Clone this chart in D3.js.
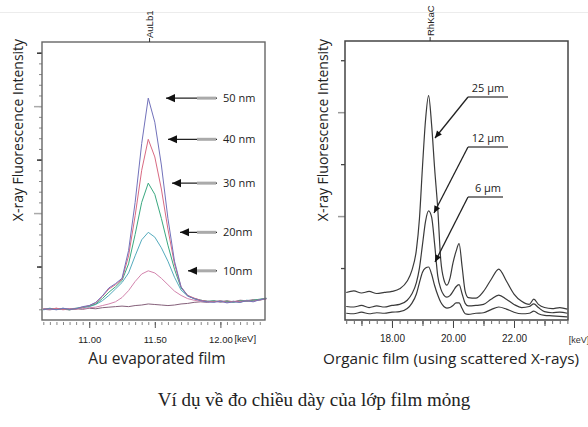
<!DOCTYPE html>
<html>
<head>
<meta charset="utf-8">
<script src="https://cdnjs.cloudflare.com/ajax/libs/d3/7.8.5/d3.min.js"></script>
<style>
  body { margin: 0; background: #fff; }
  svg { display: block; }
</style>
</head>
<body>
<div id="chart"></div>
<script>
// Data
// --------------------------

// Left panel: Au evaporated film, energy in keV
var auEnergy = [10.65, 10.70, 10.75, 10.80, 10.85, 10.90, 10.95, 11.00, 11.05, 11.10, 11.15, 11.20,
  11.25, 11.30, 11.35, 11.40, 11.45, 11.50, 11.55, 11.60, 11.65, 11.70, 11.75, 11.80, 11.85,
  11.90, 11.95, 12.00, 12.05, 12.10, 12.15, 12.20, 12.25, 12.30, 12.35];

var au0nm = [0.20, 0.19, 0.21, 0.20, 0.19, 0.21, 0.20, 0.22, 0.21, 0.23, 0.24, 0.25, 0.26, 0.25,
  0.27, 0.28, 0.30, 0.29, 0.28, 0.27, 0.28, 0.30, 0.31, 0.33, 0.34, 0.33, 0.35, 0.34, 0.36, 0.34,
  0.37, 0.36, 0.38, 0.37, 0.40];
var au10nm = [0.21, 0.20, 0.22, 0.19, 0.21, 0.22, 0.21, 0.23, 0.24, 0.27, 0.30, 0.34, 0.42, 0.55,
  0.72, 0.86, 0.92, 0.88, 0.78, 0.66, 0.54, 0.46, 0.40, 0.37, 0.35, 0.34, 0.36, 0.33, 0.35, 0.34,
  0.36, 0.35, 0.37, 0.38, 0.39];
var au20nm = [0.19, 0.21, 0.20, 0.22, 0.20, 0.21, 0.23, 0.25, 0.29, 0.36, 0.46, 0.58, 0.70, 0.88,
  1.20, 1.50, 1.64, 1.55, 1.35, 1.10, 0.80, 0.56, 0.45, 0.40, 0.37, 0.35, 0.34, 0.36, 0.34, 0.35,
  0.33, 0.37, 0.36, 0.38, 0.40];
var au30nm = [0.20, 0.22, 0.20, 0.21, 0.19, 0.22, 0.24, 0.26, 0.30, 0.40, 0.52, 0.62, 0.74, 1.05,
  1.60, 2.20, 2.56, 2.35, 1.90, 1.40, 0.95, 0.60, 0.46, 0.40, 0.37, 0.35, 0.36, 0.34, 0.35, 0.33,
  0.36, 0.35, 0.37, 0.39, 0.41];
var au40nm = [0.21, 0.20, 0.22, 0.20, 0.21, 0.20, 0.24, 0.27, 0.32, 0.44, 0.58, 0.66, 0.76, 1.20,
  1.95, 2.80, 3.38, 3.05, 2.45, 1.70, 1.05, 0.62, 0.46, 0.41, 0.37, 0.35, 0.34, 0.36, 0.33, 0.35,
  0.34, 0.36, 0.35, 0.38, 0.40];
var au50nm = [0.20, 0.21, 0.19, 0.22, 0.20, 0.21, 0.25, 0.27, 0.33, 0.45, 0.60, 0.68, 0.78, 1.30,
  2.20, 3.30, 4.15, 3.70, 2.90, 1.90, 1.10, 0.62, 0.45, 0.40, 0.36, 0.34, 0.33, 0.35, 0.32, 0.34,
  0.33, 0.36, 0.34, 0.38, 0.40];

var auLabels = ["10nm", "20nm", "30 nm", "40 nm", "50 nm"];
var auTicks = [11.0, 11.5, 12.0];

// Right panel: organic film, energy in keV
var orgEnergy = [16.5, 16.75, 17.0, 17.25, 17.5, 17.75, 18.0, 18.25, 18.5, 18.65, 18.8, 18.9,
  19.0, 19.1, 19.2, 19.3, 19.4, 19.5, 19.6, 19.7, 19.8, 19.9, 20.0, 20.1, 20.2, 20.3, 20.4, 20.5,
  20.75, 21.0, 21.25, 21.5, 21.75, 22.0, 22.25, 22.5, 22.65, 22.8, 23.0, 23.25, 23.5, 23.75];

var org25um = [0.53, 0.56, 0.52, 0.55, 0.51, 0.53, 0.55, 0.60, 0.75, 0.95, 1.35, 1.95, 2.95,
  3.85, 4.32, 3.75, 2.90, 2.15, 1.15, 0.78, 0.67, 0.80, 1.10, 1.32, 1.47, 1.02, 0.55, 0.43, 0.42,
  0.55, 0.78, 0.98, 0.75, 0.50, 0.36, 0.30, 0.40, 0.30, 0.24, 0.22, 0.24, 0.21];
var org12um = [0.26, 0.25, 0.28, 0.24, 0.27, 0.25, 0.28, 0.30, 0.38, 0.50, 0.72, 1.00, 1.45,
  1.90, 2.10, 1.98, 1.45, 0.85, 0.60, 0.48, 0.44, 0.47, 0.55, 0.64, 0.68, 0.50, 0.32, 0.27, 0.28,
  0.30, 0.40, 0.48, 0.40, 0.30, 0.24, 0.26, 0.31, 0.24, 0.16, 0.14, 0.15, 0.13];
var org6um = [0.13, 0.12, 0.15, 0.12, 0.14, 0.13, 0.15, 0.16, 0.22, 0.32, 0.50, 0.72, 0.92,
  1.00, 1.02, 0.88, 0.66, 0.48, 0.34, 0.26, 0.23, 0.24, 0.28, 0.33, 0.33, 0.22, 0.12, 0.11, 0.13,
  0.14, 0.20, 0.25, 0.21, 0.15, 0.12, 0.13, 0.17, 0.12, 0.09, 0.08, 0.07, 0.06];

var orgLabels = ["25 µm", "12 µm", "6 µm"];
var orgTicks = [18, 20, 22];

// Setting the canvas
// --------------------
var width = 588;
var height = 427;

var svg = d3
  .select("#chart")
  .append("svg")
  .attr("width", width)
  .attr("height", height)
  .style("font-family", "'Open Sans', 'DejaVu Sans', sans-serif");

svg.append("rect").attr("width", width).attr("height", height).attr("fill", "#fff");

// faint strip at the very top
svg.append("line")
  .attr("x1", 0).attr("x2", width)
  .attr("y1", 12.5).attr("y2", 12.5)
  .attr("stroke", "#ececec");

// Arrow helper: line from (x1,y1) to (x2,y2) with a filled head at (x2,y2)
function arrow(g, x1, y1, x2, y2, size) {
  g.append("line")
    .attr("x1", x1).attr("y1", y1)
    .attr("x2", x2).attr("y2", y2)
    .attr("stroke", "#222")
    .attr("stroke-width", 1.3);
  var a = Math.atan2(y2 - y1, x2 - x1);
  var w = size * 0.45;
  var bx = x2 - size * Math.cos(a);
  var by = y2 - size * Math.sin(a);
  g.append("path")
    .attr("d", "M" + x2 + "," + y2 +
      "L" + (bx + w * Math.sin(a)) + "," + (by - w * Math.cos(a)) +
      "L" + (bx - w * Math.sin(a)) + "," + (by + w * Math.cos(a)) + "Z")
    .attr("fill", "#111");
}

// Left panel: Au evaporated film
// --------------------------------
var xL = d3.scaleLinear().domain([10.64, 12.34]).range([42, 265]);
var yL = d3.scaleLinear().domain([0, 5.2]).range([320, 42]);

var left = svg.append("g").attr("class", "auPanel");

// minor ticks on x
left.append("g")
  .attr("transform", "translate(0,322)")
  .call(d3.axisBottom(xL).tickValues(d3.range(10.65, 12.34, 0.05)).tickSize(3).tickFormat(""))
  .call(function(g) { g.select(".domain").remove(); })
  .selectAll("line").attr("stroke", "#888");

// labelled ticks on x
var auAxis = left.append("g")
  .attr("transform", "translate(0,322)")
  .call(d3.axisBottom(xL).tickValues(auTicks).tickSize(6).tickPadding(8)
    .tickFormat(function(d) { return d3.format(".2f")(d); }));
auAxis.select(".domain").remove();
auAxis.selectAll("line").attr("stroke", "#555");
auAxis.selectAll("text")
  .attr("fill", "#222")
  .style("font-family", "'Liberation Sans', Arial, sans-serif")
  .style("font-size", "9.5px");

left.append("text")
  .attr("x", xL(12.0) + 14)
  .attr("y", 342)
  .attr("fill", "#222")
  .style("font-family", "'Liberation Sans', Arial, sans-serif")
  .style("font-size", "9.5px")
  .text("[keV]");

// y ticks: minor, medium and long
left.append("g")
  .attr("transform", "translate(42,0)")
  .call(d3.axisLeft(yL).tickValues(d3.range(0.2, 5.2, 0.2)).tickSize(3).tickFormat(""))
  .call(function(g) { g.select(".domain").remove(); })
  .selectAll("line").attr("stroke", "#888");
left.append("g")
  .attr("transform", "translate(42,0)")
  .call(d3.axisLeft(yL).tickValues([1, 3, 5]).tickSize(5).tickFormat(""))
  .call(function(g) { g.select(".domain").remove(); })
  .selectAll("line").attr("stroke", "#333").attr("stroke-width", 1.5);
left.append("g")
  .attr("transform", "translate(42,0)")
  .call(d3.axisLeft(yL).tickValues([2, 4]).tickSize(8).tickFormat(""))
  .call(function(g) { g.select(".domain").remove(); })
  .selectAll("line").attr("stroke", "#aaa").attr("stroke-width", 1.5);

// curves
var auSeries = [au0nm, au10nm, au20nm, au30nm, au40nm, au50nm];
var auColors = ["#85607a", "#d384ad", "#55abbd", "#3aa880", "#d96a82", "#7272bb"];

var auLine = d3.line()
  .x(function(d, i) { return xL(auEnergy[i]); })
  .y(function(d) { return yL(d); });

left.selectAll("path.auCurve")
  .data(auSeries)
  .enter()
  .append("path")
  .attr("class", "auCurve")
  .attr("d", auLine)
  .attr("fill", "none")
  .attr("stroke", function(d, i) { return auColors[i]; })
  .attr("stroke-width", 1);

// frame
left.append("rect")
  .attr("x", 42).attr("y", 42)
  .attr("width", 223).attr("height", 278)
  .attr("fill", "none")
  .attr("stroke", "#666")
  .attr("stroke-width", 1.4);

// AuLb1 line marker
left.append("line")
  .attr("x1", xL(11.46)).attr("x2", xL(11.46))
  .attr("y1", 38).attr("y2", 42)
  .attr("stroke", "#333");
left.append("text")
  .attr("transform", "translate(" + (xL(11.46) + 3.5) + ",38)rotate(-90)")
  .attr("fill", "#222")
  .style("font-family", "'Liberation Sans', Arial, sans-serif")
  .style("font-size", "9.5px")
  .text("AuLb1");

// thickness arrows
var auTipX = [188, 180, 172, 168, 166];
auLabels.forEach(function(label, i) {
  var yy = yL(d3.max(auSeries[i + 1]));
  arrow(left, 217, yy, auTipX[i], yy, 9);
  left.append("rect")
    .attr("x", 197).attr("y", yy - 1.5)
    .attr("width", 19).attr("height", 3)
    .attr("fill", "#aaa");
  left.append("text")
    .attr("x", 223)
    .attr("y", yy + 4)
    .attr("fill", "#222")
    .style("font-size", "11px")
    .text(label);
});

// axis title and panel title
left.append("text")
  .attr("transform", "translate(23,130)rotate(-90)")
  .attr("text-anchor", "middle")
  .attr("fill", "#222")
  .style("font-size", "14px")
  .text("X-ray Fluorescence Intensity");

left.append("text")
  .attr("x", 157)
  .attr("y", 364)
  .attr("text-anchor", "middle")
  .attr("fill", "#222")
  .style("font-size", "15.5px")
  .text("Au evaporated film");

// Right panel: organic film
// ---------------------------
var xR = d3.scaleLinear().domain([16.46, 23.77]).range([345, 568]);
var yR = d3.scaleLinear().domain([0, 5.37]).range([320, 41]);

var right = svg.append("g").attr("class", "orgPanel");

right.append("g")
  .attr("transform", "translate(0,321)")
  .call(d3.axisBottom(xR).tickValues(d3.range(16.5, 23.76, 0.25)).tickSize(3).tickFormat(""))
  .call(function(g) { g.select(".domain").remove(); })
  .selectAll("line").attr("stroke", "#666");
right.append("g")
  .attr("transform", "translate(0,321)")
  .call(d3.axisBottom(xR).tickValues(d3.range(17, 24, 1)).tickSize(5).tickFormat(""))
  .call(function(g) { g.select(".domain").remove(); })
  .selectAll("line").attr("stroke", "#444");

var orgAxis = right.append("g")
  .attr("transform", "translate(0,321)")
  .call(d3.axisBottom(xR).tickValues(orgTicks).tickSize(7).tickPadding(7)
    .tickFormat(function(d) { return d3.format(".2f")(d); }));
orgAxis.select(".domain").remove();
orgAxis.selectAll("line").attr("stroke", "#444");
orgAxis.selectAll("text")
  .attr("fill", "#222")
  .style("font-family", "'Liberation Sans', Arial, sans-serif")
  .style("font-size", "10px");

right.append("text")
  .attr("x", 579)
  .attr("y", 343)
  .attr("text-anchor", "middle")
  .attr("fill", "#333")
  .style("font-family", "'Liberation Sans', Arial, sans-serif")
  .style("font-size", "9px")
  .text("[keV]");

right.append("g")
  .attr("transform", "translate(345,0)")
  .call(d3.axisLeft(yR).tickValues([1, 3, 5]).tickSize(4).tickFormat(""))
  .call(function(g) { g.select(".domain").remove(); })
  .selectAll("line").attr("stroke", "#444").attr("stroke-width", 1.3);
right.append("g")
  .attr("transform", "translate(345,0)")
  .call(d3.axisLeft(yR).tickValues([2, 4]).tickSize(7).tickFormat(""))
  .call(function(g) { g.select(".domain").remove(); })
  .selectAll("line").attr("stroke", "#999").attr("stroke-width", 1.5);

var orgSeries = [org25um, org12um, org6um];

var orgLine = d3.line()
  .x(function(d, i) { return xR(orgEnergy[i]); })
  .y(function(d) { return yR(d); })
  .curve(d3.curveMonotoneX);

right.selectAll("path.orgCurve")
  .data(orgSeries)
  .enter()
  .append("path")
  .attr("class", "orgCurve")
  .attr("d", orgLine)
  .attr("fill", "none")
  .attr("stroke", "#3a3a3a")
  .attr("stroke-width", 1.2);

right.append("rect")
  .attr("x", 345).attr("y", 41)
  .attr("width", 223).attr("height", 279)
  .attr("fill", "none")
  .attr("stroke", "#444")
  .attr("stroke-width", 1.5);

// RhKaC marker
right.append("line")
  .attr("x1", xR(19.25)).attr("x2", xR(19.25))
  .attr("y1", 37).attr("y2", 41)
  .attr("stroke", "#333");
right.append("text")
  .attr("transform", "translate(" + (xR(19.25) + 3.5) + ",36)rotate(-90)")
  .attr("fill", "#222")
  .style("font-family", "'Liberation Sans', Arial, sans-serif")
  .style("font-size", "9.5px")
  .text("RhKaC");

// thickness callouts
var calloutY = [97, 147, 197];
var calloutEnd = [508, 508, 503];
var calloutTip = [[435, 138], [434, 213], [435, 262]];
orgLabels.forEach(function(label, i) {
  right.append("line")
    .attr("x1", 468).attr("x2", calloutEnd[i])
    .attr("y1", calloutY[i]).attr("y2", calloutY[i])
    .attr("stroke", "#555")
    .attr("stroke-width", 1.5);
  arrow(right, 468, calloutY[i], calloutTip[i][0], calloutTip[i][1], 7);
  right.append("text")
    .attr("x", 488)
    .attr("y", calloutY[i] - 5)
    .attr("text-anchor", "middle")
    .attr("fill", "#222")
    .style("font-size", "11px")
    .text(label);
});

right.append("text")
  .attr("transform", "translate(328,130)rotate(-90)")
  .attr("text-anchor", "middle")
  .attr("fill", "#222")
  .style("font-size", "14px")
  .text("X-ray Fluorescence Intensity");

right.append("text")
  .attr("x", 451)
  .attr("y", 364)
  .attr("text-anchor", "middle")
  .attr("fill", "#222")
  .style("font-size", "15.3px")
  .text("Organic film (using scattered X-rays)");

// Caption
svg.append("text")
  .attr("x", 314)
  .attr("y", 406)
  .attr("text-anchor", "middle")
  .attr("fill", "#222")
  .style("font-family", "'Liberation Serif', 'Times New Roman', serif")
  .style("font-size", "19px")
  .text("Ví dụ về đo chiều dày của lớp film mỏng");
</script>
</body>
</html>
